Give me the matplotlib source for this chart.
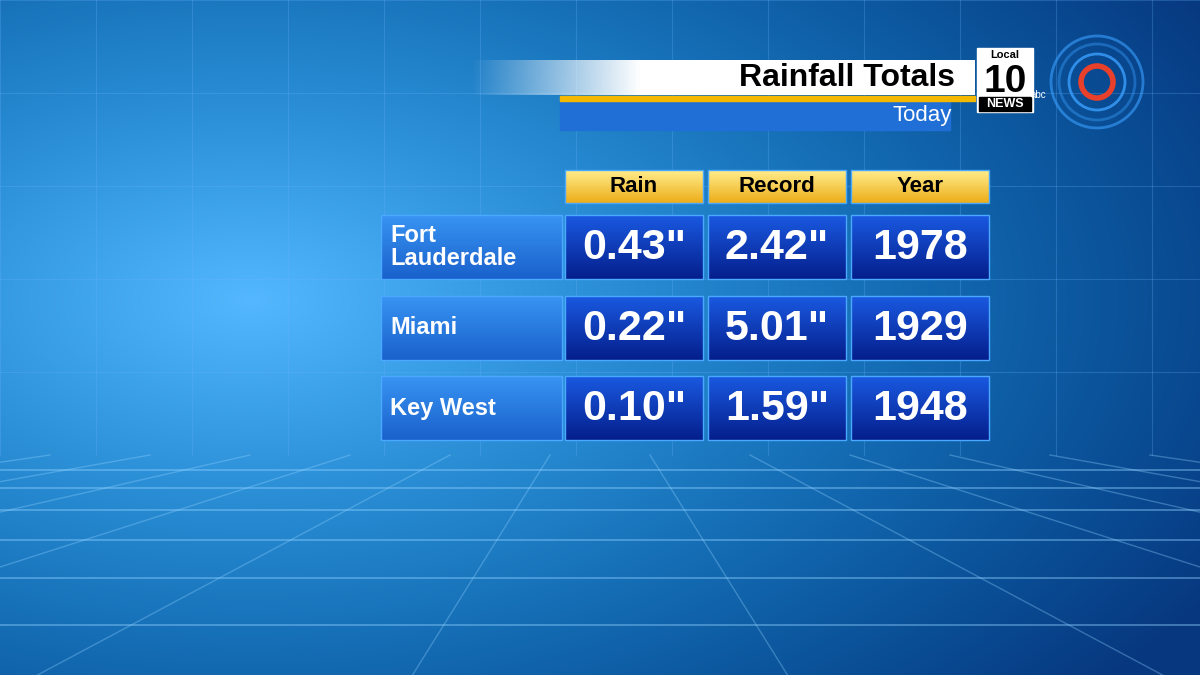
import numpy as np
import matplotlib.pyplot as plt
from matplotlib.patches import Rectangle, Circle

title = 'Rainfall Totals'
subtitle = 'Today'
columns = ['Rain', 'Record', 'Year']
cities = ['Fort\nLauderdale', 'Miami', 'Key West']
rain = ['0.43"', '0.22"', '0.10"']
record = ['2.42"', '5.01"', '1.59"']
year = ['1978', '1929', '1948']

plt.rcParams['font.family'] = ['Liberation Sans', 'DejaVu Sans']

W, H = 1200, 675
fig = plt.figure(figsize=(12, 6.75), dpi=100)
ax = fig.add_axes([0, 0, 1, 1])
ax.set_xlim(0, W)
ax.set_ylim(H, 0)
ax.axis('off')

# background: blue glow brighter at left-centre
yy, xx = np.mgrid[0:H, 0:W]
d = np.sqrt(((xx - 250) / 1100) ** 2 + ((yy - 300) / 600) ** 2)
t = np.clip(1 - d, 0, 1)
bg = np.zeros((H, W, 3))
bg[..., 0] = 0.03 + 0.3 * t ** 2
bg[..., 1] = 0.22 + 0.5 * t
bg[..., 2] = 0.5 + 0.5 * t
bg = np.clip(bg, 0, 1)
ax.imshow(bg, extent=(0, W, H, 0), zorder=0)

# perspective floor
horizon_y = 455
for y in [470, 488, 510, 540, 578, 625]:
    ax.plot([0, W], [y, y], color='#8fd0ff', lw=1.3, alpha=0.45, zorder=1)
for x0 in np.linspace(-1600, 2800, 12):
    ax.plot([600 + (x0 - 600) * 0.25, x0], [horizon_y, H + 20],
            color='#8fd0ff', lw=1.0, alpha=0.35, zorder=1)

# faint grid in upper part
for x in range(0, W, 96):
    ax.plot([x, x], [0, horizon_y], color='#6ab4ff', lw=0.8, alpha=0.25, zorder=1.6)
for y in range(0, horizon_y, 93):
    ax.plot([0, W], [y, y], color='#6ab4ff', lw=0.8, alpha=0.25, zorder=1.6)

# title bar
ax.add_patch(Rectangle((560, 100), 390, 30, color='#1f6fd6', zorder=2))
ax.add_patch(Rectangle((560, 96), 415, 5, color='#f5b800', zorder=3))
wb = np.ones((1, 200, 4))
wb[..., 3] = np.clip(np.linspace(0, 1, 200) * 3, 0, 1)
ax.imshow(wb, extent=(470, 975, 95, 60), zorder=3, aspect='auto')
ax.text(955, 78, title, ha='right', va='center', fontsize=23,
        fontweight='bold', color='black', zorder=4)
ax.text(952, 115, subtitle, ha='right', va='center', fontsize=16,
        color='white', zorder=4)

# logo
ax.add_patch(Rectangle((977, 48), 56, 64, color='white', zorder=4))
ax.text(1005, 55, 'Local', ha='center', va='center', fontsize=8,
        fontweight='bold', color='black', zorder=5)
ax.text(1005, 82, '10', ha='center', va='center', fontsize=28,
        fontweight='bold', color='black', zorder=5)
ax.add_patch(Rectangle((979, 97), 52, 14, color='black', zorder=5))
ax.text(1005, 104, 'NEWS', ha='center', va='center', fontsize=9,
        fontweight='bold', color='white', zorder=6)
ax.text(1038, 95, 'abc', ha='center', va='center', fontsize=7,
        color='white', zorder=5)
for r, a in [(46, 0.6), (38, 0.4), (28, 0.8)]:
    ax.add_patch(Circle((1097, 82), r, fill=False, ec='#3aa0ff', lw=2,
                        alpha=a, zorder=4))
ax.add_patch(Circle((1097, 82), 16, fill=False, ec='#e8402a', lw=4, zorder=5))


def cell(x0, y0, w, h, top, bottom, z=3):
    g = np.linspace(0, 1, 64)[:, None]
    c = np.array(top)[None, :] * (1 - g) + np.array(bottom)[None, :] * g
    img = c[:, None, :] * np.ones((1, 2, 1))
    ax.imshow(img, extent=(x0, x0 + w, y0 + h, y0), zorder=z, aspect='auto')
    ax.add_patch(Rectangle((x0, y0), w, h, fill=False, ec='#4aa8ff', lw=1,
                           zorder=z + 0.1))


col_x = [565, 708, 851]
col_w = 138
for x, name in zip(col_x, columns):
    cell(x, 170, col_w, 33, (1.0, 0.93, 0.55), (0.93, 0.68, 0.1))
    ax.text(x + col_w / 2, 186, name, ha='center', va='center', fontsize=16,
            fontweight='bold', color='black', zorder=5)

row_y = [215, 296, 376]
row_h = 64
values = list(zip(rain, record, year))
for y, city, vals in zip(row_y, cities, values):
    cell(381, y, 181, row_h, (0.22, 0.58, 0.95), (0.1, 0.38, 0.8))
    ax.text(390, y + row_h / 2, city, ha='left', va='center', fontsize=17,
            fontweight='bold', color='white', linespacing=0.95, zorder=5)
    for x, v in zip(col_x, vals):
        cell(x, y, col_w, row_h, (0.1, 0.35, 0.88), (0.02, 0.12, 0.55))
        ax.text(x + col_w / 2, y + row_h / 2 + 1, v, ha='center', va='center',
                fontsize=31, fontweight='bold', color='white', zorder=5)

fig.savefig('out.png', dpi=100)
